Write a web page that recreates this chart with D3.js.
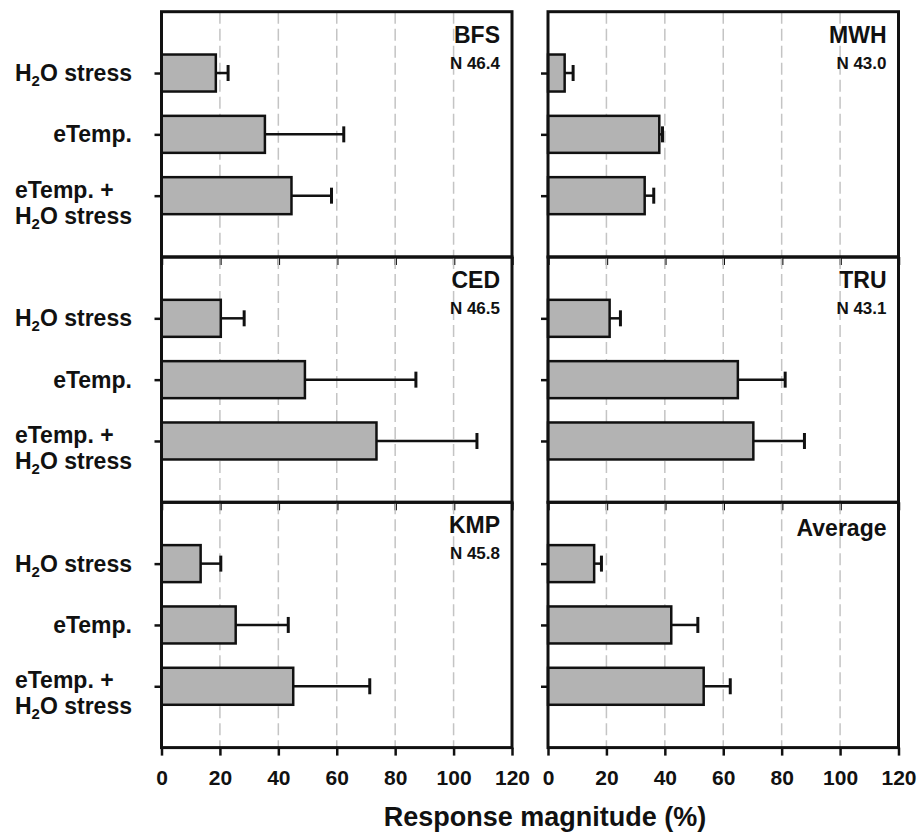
<!DOCTYPE html>
<html>
<head>
<meta charset="utf-8">
<script src="https://cdn.jsdelivr.net/npm/d3@7"></script>
<style>
	body { margin: 0; background: #fff; }
	svg { font-family: "Liberation Sans", Arial, sans-serif; font-weight: bold; }
</style>
</head>
<body>
<div id="chart"></div>
<script>

//=================== DATA ====================================

var categories = ["H2O stress", "eTemp.", "eTemp. + H2O stress"];
var sites = ["BFS", "MWH", "CED", "TRU", "KMP", "Average"];
var latitudes = ["N 46.4", "N 43.0", "N 46.5", "N 43.1", "N 45.8", ""];
var xTicks = [0, 20, 40, 60, 80, 100, 120];

//mean response (%) per treatment, same order as categories
var bfsMean = [18.6, 35.4, 44.5];
var mwhMean = [5.7, 38.1, 33.1];
var cedMean = [20.3, 49.1, 73.6];
var truMean = [21.1, 65.0, 70.3];
var kmpMean = [13.4, 25.4, 45.1];
var avgMean = [15.8, 42.2, 53.3];

//upper error (%) per treatment
var bfsErr = [4.2, 27.0, 13.7];
var mwhErr = [2.9, 1.1, 3.1];
var cedErr = [8.0, 38.0, 34.4];
var truErr = [3.7, 16.2, 17.5];
var kmpErr = [6.9, 18.0, 26.2];
var avgErr = [2.5, 9.1, 9.1];

var means = [bfsMean, mwhMean, cedMean, truMean, kmpMean, avgMean];
var errors = [bfsErr, mwhErr, cedErr, truErr, kmpErr, avgErr];

//=================== LAYOUT ====================================

var width = 919, height = 834;
var colLeft = [161.5, 548],
	colWidth = 350.5,
	rowTop = 11.7,
	rowHeight = 245.3,
	barHeight = 37,
	labelRight = 132;

var svg = d3.select("#chart").append("svg")
	.attr("width", width)
	.attr("height", height);

var x = d3.scaleLinear().domain([0, 120]).range([0, colWidth]);
var y = d3.scalePoint().domain(categories).range([0, rowHeight]).padding(1);

//write a string, turning "H2O" into H with a subscript 2
function writeChem(textSel, str) {
	var parts = str.split("H2O");
	parts.forEach(function (p, i) {
		if (i > 0) {
			textSel.append("tspan").text("H");
			textSel.append("tspan").attr("dy", 5).style("font-size", "15px").text("2");
			textSel.append("tspan").attr("dy", -5).text("O" + p);
		} else if (p.length) {
			textSel.append("tspan").text(p);
		}
	});
}

//=================== PANELS ====================================

sites.forEach(function (site, i) {
	var col = i % 2, row = Math.floor(i / 2);
	var g = svg.append("g")
		.attr("transform", "translate(" + colLeft[col] + "," + (rowTop + row * rowHeight) + ")");

	var rows = categories.map(function (c, k) {
		return {cat: c, mean: means[i][k], err: errors[i][k]};
	});

	//dashed gridlines
	g.selectAll("line.grid")
		.data(xTicks.slice(1, -1))
		.enter().append("line")
		.attr("x1", x).attr("x2", x)
		.attr("y1", 0).attr("y2", rowHeight)
		.attr("stroke", "#c4c4c4")
		.attr("stroke-width", 1.5)
		.attr("stroke-dasharray", "12,5");

	//bars
	g.selectAll("rect.bar")
		.data(rows)
		.enter().append("rect")
		.attr("x", 0)
		.attr("y", function (d) { return y(d.cat) - barHeight / 2; })
		.attr("width", function (d) { return x(d.mean); })
		.attr("height", barHeight)
		.attr("fill", "#b3b3b3")
		.attr("stroke", "#111")
		.attr("stroke-width", 2.5);

	//error bars, upper side only
	var eb = g.selectAll("g.err")
		.data(rows)
		.enter().append("g")
		.attr("stroke", "#111")
		.attr("stroke-width", 2.5);
	eb.append("line")
		.attr("x1", function (d) { return x(d.mean); })
		.attr("x2", function (d) { return x(d.mean + d.err); })
		.attr("y1", function (d) { return y(d.cat); })
		.attr("y2", function (d) { return y(d.cat); });
	eb.append("line")
		.attr("stroke-width", 3)
		.attr("x1", function (d) { return x(d.mean + d.err); })
		.attr("x2", function (d) { return x(d.mean + d.err); })
		.attr("y1", function (d) { return y(d.cat) - 8; })
		.attr("y2", function (d) { return y(d.cat) + 8; });

	//bottom axis: ticks on every panel, numbers on the last row only
	var xAxis = g.append("g")
		.attr("transform", "translate(0," + rowHeight + ")")
		.call(d3.axisBottom(x).tickValues(xTicks).tickSize(8).tickPadding(14)
			.tickFormat(row == 2 ? d3.format("d") : ""));
	xAxis.select(".domain").remove();
	xAxis.selectAll("line").attr("stroke", "#111").attr("stroke-width", 2.5);
	xAxis.selectAll("text")
		.attr("fill", "#111")
		.style("font-size", "21px")
		.style("font-family", "'Liberation Sans', Arial, sans-serif");

	//left ticks
	var yAxis = g.append("g")
		.call(d3.axisLeft(y).tickSize(7).tickFormat(""));
	yAxis.select(".domain").remove();
	yAxis.selectAll("line").attr("stroke", "#111").attr("stroke-width", 2.5);

	//panel frame
	g.append("rect")
		.attr("width", colWidth)
		.attr("height", rowHeight)
		.attr("fill", "none")
		.attr("stroke", "#111")
		.attr("stroke-width", 3);

	//site name and latitude
	g.append("text")
		.attr("x", colWidth - 12)
		.attr("y", latitudes[i] ? 31 : 34)
		.attr("text-anchor", "end")
		.style("font-size", "23px")
		.attr("fill", "#111")
		.text(site);
	if (latitudes[i]) {
		g.append("text")
			.attr("x", colWidth - 12)
			.attr("y", 57)
			.attr("text-anchor", "end")
			.style("font-size", "17px")
			.attr("fill", "#111")
			.text(latitudes[i]);
	}

	//category labels, left column only
	if (col == 0) {
		categories.forEach(function (c) {
			var cy = y(c);
			var lines = c.split(" + ");
			if (lines.length == 1) {
				var t = g.append("text")
					.attr("x", labelRight - colLeft[col])
					.attr("y", cy + 8)
					.attr("text-anchor", "end")
					.style("font-size", "23px")
					.attr("fill", "#111");
				writeChem(t, c);
			} else {
				var t2 = g.append("text")
					.attr("x", labelRight - colLeft[col])
					.attr("y", cy + 28)
					.attr("text-anchor", "end")
					.style("font-size", "23px")
					.attr("fill", "#111");
				writeChem(t2, lines[1]);
				var left = t2.node().getBBox().x;
				var t1 = g.append("text")
					.attr("x", left)
					.attr("y", cy + 2)
					.attr("text-anchor", "start")
					.style("font-size", "23px")
					.attr("fill", "#111");
				writeChem(t1, lines[0] + " +");
			}
		});
	}
});

//axis title
svg.append("text")
	.attr("x", 545)
	.attr("y", 826)
	.attr("text-anchor", "middle")
	.style("font-size", "27px")
	.attr("fill", "#111")
	.text("Response magnitude (%)");

</script>
</body>
</html>
